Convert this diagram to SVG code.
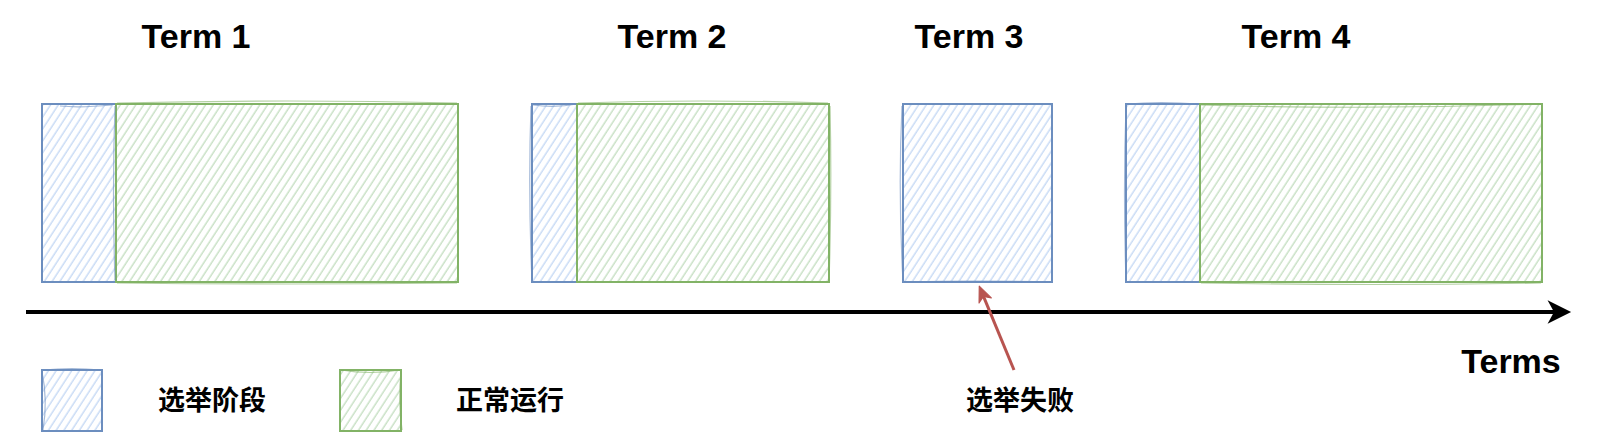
<svg xmlns="http://www.w3.org/2000/svg" width="1600" height="446" viewBox="0 0 1600 446">
<style>
  .title { font-family: "Liberation Sans", Arial, sans-serif; font-weight: bold; font-size: 34px; fill: #000; text-anchor: middle; }
  .cjk { font-family: "Liberation Sans", "Noto Sans CJK SC", sans-serif; font-weight: bold; font-size: 27px; fill: #000; text-anchor: middle; }
  .blue { fill: url(#hBlue); stroke: #6c8ebf; stroke-width: 2; }
  .green { fill: url(#hGreen); stroke: #82b366; stroke-width: 2; }
  .sk-blue { fill: none; stroke: #6c8ebf; stroke-width: 1.2; opacity: 0.6; }
  .sk-green { fill: none; stroke: #82b366; stroke-width: 1.2; opacity: 0.6; }
  .axis { stroke: #000; stroke-width: 4; fill: none; }
  .red { stroke: #b85450; stroke-width: 3; fill: none; }
</style>
<defs>
  <pattern id="hBlue" width="6.5" height="6.5" patternUnits="userSpaceOnUse" patternTransform="rotate(33)">
    <line x1="2" y1="0" x2="2" y2="6.5" stroke="#bcd3f3" stroke-width="1.2"/>
  </pattern>
  <pattern id="hGreen" width="6.5" height="6.5" patternUnits="userSpaceOnUse" patternTransform="rotate(33)">
    <line x1="2" y1="0" x2="2" y2="6.5" stroke="#bddab9" stroke-width="1.2"/>
  </pattern>
  <marker id="arrowBlack" markerUnits="userSpaceOnUse" markerWidth="30" markerHeight="30" viewBox="-2 -13 28 26" refX="6" refY="0" orient="auto">
    <path d="M0,-11 L22,0 L0,11 L6,0 Z" fill="#000"/>
  </marker>
  <marker id="arrowRed" markerUnits="userSpaceOnUse" markerWidth="20" markerHeight="20" viewBox="-2 -8 18 16" refX="4" refY="0" orient="auto">
    <path d="M0,-6 L14,0 L0,6 L4,0 Z" fill="#b85450" stroke="#b85450" stroke-width="1" stroke-linejoin="round"/>
  </marker>
</defs>

<g id="labels">
  <text class="title" x="196" y="48">Term 1</text>
  <text class="title" x="672" y="48">Term 2</text>
  <text class="title" x="969" y="48">Term 3</text>
  <text class="title" x="1296" y="48">Term 4</text>
  <text class="title" x="1511" y="373">Terms</text>
</g>

<g id="term1">
  <rect class="blue" x="42" y="104" width="74" height="178"/>
  <rect class="green" x="116" y="104" width="342" height="178"/>
  <path class="sk-green" d="M117,103 Q290,99 457,103 M117,283 Q290,285 457,283"/>
  <path class="sk-blue" d="M115,106 Q112,190 115,280 M60,106 Q80,108 112,105"/>
</g>

<g id="term2">
  <rect class="blue" x="532" y="104" width="45" height="178"/>
  <rect class="green" x="577" y="104" width="252" height="178"/>
  <path class="sk-green" d="M578,103 Q700,99 828,103 M830,106 Q832,190 829,282"/>
  <path class="sk-blue" d="M531,106 Q528,190 532,282 M533,105 Q555,108 577,104"/>
</g>

<g id="term3">
  <rect class="blue" x="903" y="104" width="149" height="178"/>
  <path class="sk-blue" d="M902,106 Q898,190 903,282 M904,282 Q975,280 1051,282"/>
</g>

<g id="term4">
  <rect class="blue" x="1126" y="104" width="74" height="178"/>
  <rect class="green" x="1200" y="104" width="342" height="178"/>
  <path class="sk-green" d="M1201,105 Q1370,110 1541,104 M1201,283 Q1370,286 1541,283"/>
  <path class="sk-blue" d="M1127,104 Q1160,101 1199,104 M1126,106 Q1123,190 1126,281"/>
</g>

<g id="legend-election">
  <rect class="blue" x="42" y="370" width="60" height="61"/>
  <path class="sk-blue" d="M43,370 Q72,367 101,370 M42,372 Q48,400 43,430"/>
  <text class="cjk" x="212" y="410">选举阶段</text>
</g>

<g id="legend-normal">
  <rect class="green" x="340" y="370" width="61" height="61"/>
  <path class="sk-green" d="M341,370 Q370,375 400,370 M401,372 Q398,400 402,430"/>
  <text class="cjk" x="510" y="410">正常运行</text>
</g>

<g id="failure-label">
  <text class="cjk" x="1020" y="410">选举失败</text>
</g>

<g id="connectors">
  <line class="axis" x1="26" y1="312" x2="1554" y2="312" marker-end="url(#arrowBlack)"/>
  <line class="red" x1="1014" y1="370" x2="983.5" y2="296.4" marker-end="url(#arrowRed)"/>
</g>
</svg>
